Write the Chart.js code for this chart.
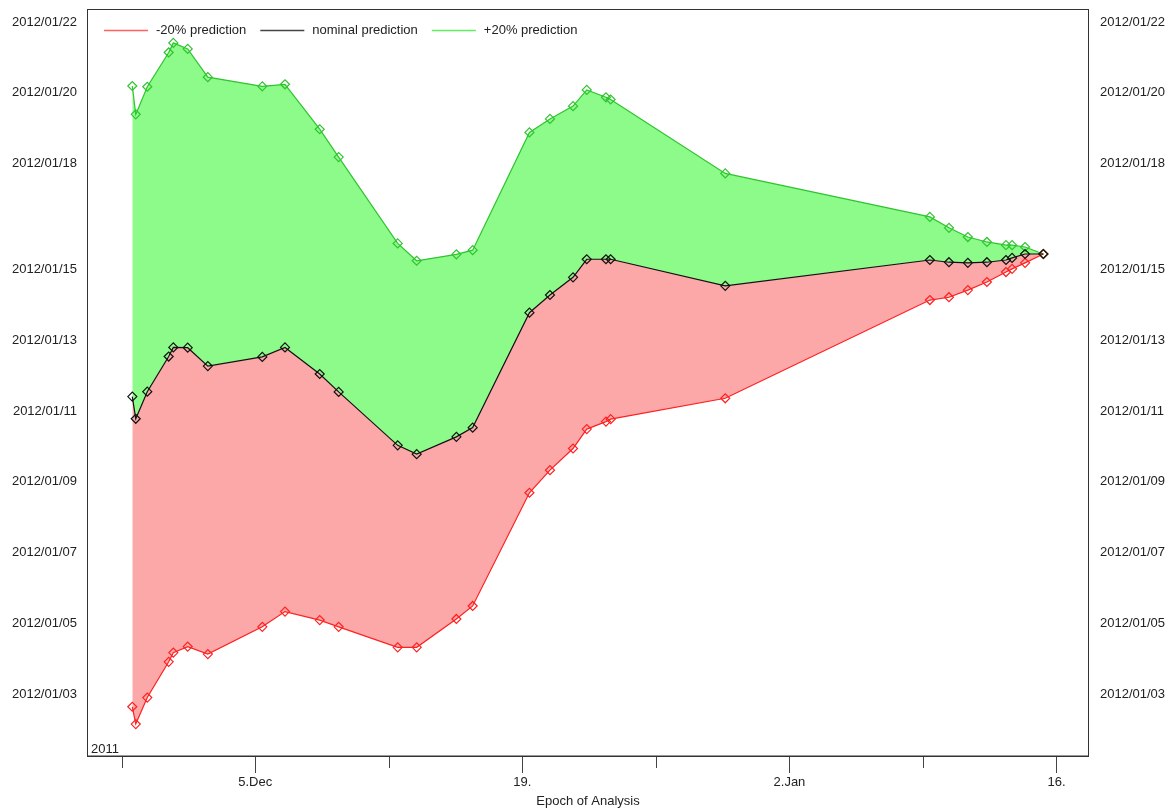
<!DOCTYPE html>
<html>
<head>
<meta charset="utf-8">
<title>Epoch of Analysis</title>
<script src="https://cdn.jsdelivr.net/npm/chart.js@4/dist/chart.umd.min.js"></script>
<style>
  html, body { margin: 0; padding: 0; background: #ffffff; }
  #wrap { width: 1173px; height: 809px; }
</style>
</head>
<body>
<div id="wrap"><canvas id="chart" width="1173" height="809"></canvas></div>
<script>
// Analysis epochs (UTC, "YYYY-MM-DD HH:MM")
const epochs = [
  '2011-11-28 13:20', '2011-11-28 17:40', '2011-11-29 08:10', '2011-11-30 11:05', '2011-11-30 16:55',
  '2011-12-01 11:00', '2011-12-02 12:20', '2011-12-05 08:50', '2011-12-06 13:25', '2011-12-08 09:05',
  '2011-12-09 08:55', '2011-12-12 11:10', '2011-12-13 11:05', '2011-12-15 13:00', '2011-12-16 09:30',
  '2011-12-19 08:55', '2011-12-20 10:45', '2011-12-21 15:45', '2011-12-22 09:00', '2011-12-23 09:10',
  '2011-12-23 15:05', '2011-12-29 15:15', '2012-01-09 08:40', '2012-01-10 08:40', '2012-01-11 08:25',
  '2012-01-12 08:25', '2012-01-13 08:25', '2012-01-13 16:05', '2012-01-14 08:25', '2012-01-15 07:25'
];

// Predicted date for each epoch, -20% case
const minus20 = [
  '2012-01-02 15:20', '2012-01-02 03:35', '2012-01-02 21:35', '2012-01-03 21:50', '2012-01-04 04:05',
  '2012-01-04 08:10', '2012-01-04 03:05', '2012-01-04 21:35', '2012-01-05 07:55', '2012-01-05 02:10',
  '2012-01-04 21:35', '2012-01-04 07:40', '2012-01-04 07:40', '2012-01-05 02:55', '2012-01-05 11:45',
  '2012-01-08 16:35', '2012-01-09 07:55', '2012-01-09 22:35', '2012-01-10 11:45', '2012-01-10 16:50',
  '2012-01-10 18:30', '2012-01-11 08:40', '2012-01-14 03:20', '2012-01-14 05:15', '2012-01-14 10:05',
  '2012-01-14 15:35', '2012-01-14 22:20', '2012-01-15 00:30', '2012-01-15 04:35', '2012-01-15 10:35'
];

// Predicted date, nominal case
const nominal = [
  '2012-01-11 09:50', '2012-01-10 18:45', '2012-01-11 13:10', '2012-01-12 13:00', '2012-01-12 19:10',
  '2012-01-12 19:00', '2012-01-12 06:30', '2012-01-12 12:45', '2012-01-12 19:10', '2012-01-12 01:10',
  '2012-01-11 13:00', '2012-01-10 00:45', '2012-01-09 18:45', '2012-01-10 06:30', '2012-01-10 12:45',
  '2012-01-13 18:45', '2012-01-14 06:45', '2012-01-14 18:45', '2012-01-15 07:00', '2012-01-15 07:00',
  '2012-01-15 07:00', '2012-01-14 13:00', '2012-01-15 06:30', '2012-01-15 05:00', '2012-01-15 04:35',
  '2012-01-15 05:00', '2012-01-15 06:30', '2012-01-15 07:55', '2012-01-15 10:35', '2012-01-15 10:35'
];

// Predicted date, +20% case
const plus20 = [
  '2012-01-20 04:35', '2012-01-19 09:20', '2012-01-20 04:05', '2012-01-21 03:20', '2012-01-21 09:50',
  '2012-01-21 05:45', '2012-01-20 10:35', '2012-01-20 04:20', '2012-01-20 05:45', '2012-01-18 23:15',
  '2012-01-18 04:20', '2012-01-15 17:45', '2012-01-15 06:00', '2012-01-15 10:20', '2012-01-15 13:10',
  '2012-01-18 21:05', '2012-01-19 06:15', '2012-01-19 14:55', '2012-01-20 01:55', '2012-01-19 20:55',
  '2012-01-19 19:25', '2012-01-17 17:15', '2012-01-16 11:45', '2012-01-16 04:20', '2012-01-15 22:05',
  '2012-01-15 18:45', '2012-01-15 16:35', '2012-01-15 16:35', '2012-01-15 15:20', '2012-01-15 10:35'
];

const seriesNames = ['-20% prediction', 'nominal prediction', '+20% prediction'];

// Labelled (major) and unlabelled (minor) weekly ticks on the epoch axis
const xMajorDates  = ['2011-12-05', '2011-12-19', '2012-01-02', '2012-01-16'];
const xMajorLabels = ['5.Dec', '19.', '2.Jan', '16.'];
const xMinorDates  = ['2011-11-28', '2011-12-12', '2011-12-26', '2012-01-09'];
const xYearLabel   = '2011';
const xTitle       = 'Epoch of Analysis';

// Prediction axis ticks
const yTickLabels = [
  '2012/01/03', '2012/01/05', '2012/01/07', '2012/01/09', '2012/01/11',
  '2012/01/13', '2012/01/15', '2012/01/18', '2012/01/20', '2012/01/22'
];

// Visible ranges
const xRange = ['2011-11-26 04:20', '2012-01-17 16:50'];
const yRange = ['2012-01-01 05:15', '2012-01-22 08:50'];

// --- helpers -------------------------------------------------------------
function toDays(s) {
  const parts = s.replace(/\//g, '-').split(' ');
  const [Y, M, D] = parts[0].split('-').map(Number);
  const [h, m] = (parts[1] || '00:00').split(':').map(Number);
  return Date.UTC(Y, M - 1, D, h, m) / 864e5;
}
const pts = arr => arr.map((v, i) => ({ x: toDays(epochs[i]), y: toDays(v) }));

const FONT = "'Liberation Sans', Arial, Helvetica, sans-serif";
const TEXT = '#222222';

const colors = {
  red:   { line: '#ff2020', fill: 'rgb(252,168,168)', legend: '#ff6060' },
  black: { line: '#111111', legend: '#444444' },
  green: { line: '#2fc42f', fill: 'rgb(140,251,137)', legend: '#5ef05e' }
};

const yTickValues = yTickLabels.map(toDays);
const xMajorValues = xMajorDates.map(toDays);
const xMinorValues = xMinorDates.map(toDays);

function yAxis(position, width, pad) {
  return {
    type: 'linear',
    position: position,
    min: toDays(yRange[0]),
    max: toDays(yRange[1]),
    grid: { display: false, drawTicks: false },
    border: { display: false },
    afterBuildTicks: s => { s.ticks = yTickValues.map(v => ({ value: v })); },
    afterFit: s => { s.width = width; s.paddingTop = 0; s.paddingBottom = 0; },
    ticks: {
      autoSkip: false,
      padding: pad,
      color: TEXT,
      font: { family: FONT, size: 13 },
      callback: (v, i) => yTickLabels[i]
    }
  };
}

// Frame, minor ticks, year label and in-plot legend
const decorations = {
  id: 'decorations',
  afterDraw(chart) {
    const { ctx, chartArea: a, scales } = chart;
    ctx.save();
    // plot frame
    ctx.strokeStyle = '#333333';
    ctx.lineWidth = 1;
    ctx.strokeRect(Math.round(a.left) + 0.5, Math.round(a.top) + 0.5,
                   Math.round(a.right - a.left) - 1, Math.round(a.bottom - a.top) - 1);
    ctx.lineWidth = 1.5;
    ctx.beginPath();
    ctx.moveTo(a.left, a.bottom - 0.75);
    ctx.lineTo(a.right, a.bottom - 0.75);
    ctx.stroke();

    // minor weekly ticks
    ctx.strokeStyle = '#444444';
    ctx.lineWidth = 1;
    xMinorValues.forEach(v => {
      const px = Math.round(scales.x.getPixelForValue(v)) + 0.5;
      ctx.beginPath();
      ctx.moveTo(px, a.bottom);
      ctx.lineTo(px, a.bottom + 11);
      ctx.stroke();
    });

    // year label in the lower-left corner
    ctx.fillStyle = TEXT;
    ctx.font = '13px ' + FONT;
    ctx.textAlign = 'left';
    ctx.textBaseline = 'alphabetic';
    ctx.fillText(xYearLabel, a.left + 4, a.bottom - 4);

    // legend
    const legendColors = [colors.red.legend, colors.black.legend, colors.green.legend];
    let x = 104;
    const y = 30;
    ctx.textBaseline = 'middle';
    seriesNames.forEach((name, i) => {
      ctx.strokeStyle = legendColors[i];
      ctx.lineWidth = 1.6;
      ctx.beginPath();
      ctx.moveTo(x, y + 0.5);
      ctx.lineTo(x + 44, y + 0.5);
      ctx.stroke();
      ctx.fillStyle = TEXT;
      ctx.fillText(name, x + 52, y);
      x += 52 + ctx.measureText(name).width + 14;
    });
    ctx.restore();
  }
};

const pointOpts = {
  pointStyle: 'rectRot',
  pointRadius: 4.5,
  pointHoverRadius: 4.5,
  pointBorderWidth: 1.2,
  pointBackgroundColor: 'rgba(0,0,0,0)',
  borderWidth: 1.2,
  tension: 0
};

new Chart(document.getElementById('chart'), {
  type: 'line',
  data: {
    datasets: [
      Object.assign({
        label: seriesNames[0],
        data: pts(minus20),
        borderColor: colors.red.line,
        pointBorderColor: colors.red.line,
        backgroundColor: colors.red.fill,
        fill: 1,
        order: 2
      }, pointOpts),
      Object.assign({
        label: seriesNames[1],
        data: pts(nominal),
        borderColor: colors.black.line,
        pointBorderColor: colors.black.line,
        fill: false,
        order: 1
      }, pointOpts),
      Object.assign({
        label: seriesNames[2],
        data: pts(plus20),
        borderColor: colors.green.line,
        pointBorderColor: colors.green.line,
        backgroundColor: colors.green.fill,
        fill: 1,
        order: 3
      }, pointOpts)
    ]
  },
  options: {
    responsive: false,
    devicePixelRatio: 1,
    animation: false,
    layout: { padding: { top: 9, left: 0, right: 0, bottom: 0 } },
    plugins: {
      legend: { display: false },
      tooltip: { enabled: false },
      filler: { propagate: false }
    },
    scales: {
      x: {
        type: 'linear',
        position: 'bottom',
        min: toDays(xRange[0]),
        max: toDays(xRange[1]),
        grid: { drawOnChartArea: false, drawTicks: true, tickLength: 16, color: '#444444', lineWidth: 1 },
        border: { display: false },
        afterBuildTicks: s => { s.ticks = xMajorValues.map(v => ({ value: v })); },
        afterFit: s => { s.height = 52; s.paddingLeft = 0; s.paddingRight = 0; },
        ticks: {
          autoSkip: false,
          maxRotation: 0,
          padding: 2,
          color: TEXT,
          font: { family: FONT, size: 13 },
          callback: (v, i) => xMajorLabels[i]
        },
        title: {
          display: true,
          text: xTitle,
          color: TEXT,
          font: { family: FONT, size: 13 },
          padding: { top: 0, bottom: 0 }
        }
      },
      y: yAxis('left', 87, 10),
      y2: yAxis('right', 84, 11)
    }
  },
  plugins: [decorations]
});
</script>
</body>
</html>
